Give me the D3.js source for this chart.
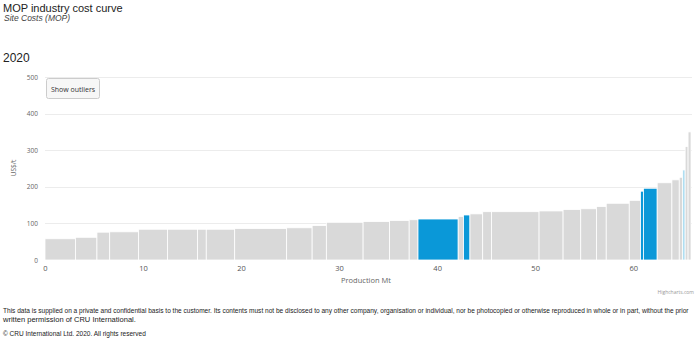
<!DOCTYPE html>
<html><head><meta charset="utf-8">
<script src="https://cdn.jsdelivr.net/npm/d3@7"></script>
<style>
html,body{margin:0;padding:0;background:#fff;}
svg{display:block;}
</style></head>
<body>
<svg id="c" width="698" height="339"></svg>
<script>
// Production capacity of each site (Mt), in cost order
const widths = [3.1, 2.2, 1.3, 2.95, 2.95, 3.05, 0.9, 2.9, 5.3, 2.6, 1.45, 3.75, 2.7, 2.0, 0.9, 4.1, 0.55, 0.65, 1.3, 0.9, 4.85, 2.45, 1.8, 1.6, 1.0, 2.35, 1.15, 0.3, 1.4, 1.5, 0.75, 0.35, 0.25, 0.3, 0.3];
// Site cost (US$/t)
const costs = [58, 62, 76, 77, 84, 84, 84, 84, 86, 88, 94, 103, 105, 108, 110, 112, 119, 123, 126, 132, 132, 134, 138, 140, 146, 155, 163, 188, 196, 211, 219, 226, 246, 310, 350];
// Highlight group: 0 = other, 1 = highlighted, 2 = light highlight
const groups = [0,0,0,0,0,0,0,0,0,0,0,0,0,0,0,1,0,1,0,0,0,0,0,0,0,0,0,1,1,0,0,0,2,0,0];
const xTicks = [0, 10, 20, 30, 40, 50, 60];
const yTicks = [0, 100, 200, 300, 400, 500];
const colors = ["#d9d9d9", "#0a98d8", "#a8dbf0"];

const svg = d3.select("#c");
const x = d3.scaleLinear().domain([0, 66]).range([45, 692]);
const y = d3.scaleLinear().domain([0, 500]).range([260, 77]);

// titles
svg.append("text").attr("x", 3).attr("y", 12).attr("font-family", "Liberation Sans, Arial, sans-serif")
  .attr("font-size", 11).attr("fill", "#222").text("MOP industry cost curve");
svg.append("text").attr("x", 4).attr("y", 20.5).attr("font-family", "Liberation Sans, Arial, sans-serif")
  .attr("font-size", 8.5).attr("font-style", "italic").attr("fill", "#444").text("Site Costs (MOP)");
svg.append("text").attr("x", 3).attr("y", 62).attr("font-family", "Liberation Sans, Arial, sans-serif")
  .attr("font-size", 12).attr("fill", "#222").text("2020");

// grid
svg.append("g").selectAll("line").data(yTicks.filter(d => d > 0)).join("line")
  .attr("x1", 45).attr("x2", 692).attr("y1", d => Math.round(y(d)) + 0.5).attr("y2", d => Math.round(y(d)) + 0.5)
  .attr("stroke", "#ececec").attr("stroke-width", 1);

// bars
let cum = 0;
const bars = widths.map((w, i) => { const b = {x0: cum, x1: cum + w, v: costs[i], g: groups[i]}; cum += w; return b; });
svg.append("g").selectAll("rect").data(bars).join("rect")
  .attr("x", d => x(d.x0)).attr("width", d => Math.max(0.5, x(d.x1) - x(d.x0)))
  .attr("y", d => y(d.v)).attr("height", d => y(0) - y(d.v))
  .attr("fill", d => colors[d.g]).attr("stroke", "#fff").attr("stroke-width", 0.8);

// axes
const xAxis = d3.axisBottom(x).tickValues(xTicks).tickSize(0).tickPadding(6);
const gx = svg.append("g").attr("transform", "translate(0,260)").call(xAxis);
gx.select(".domain").remove();
gx.selectAll("text").attr("font-family", "Open Sans, sans-serif").attr("font-size", 7.5).attr("fill", "#555");

const yAxis = d3.axisLeft(y).tickValues(yTicks).tickSize(0).tickPadding(7);
const gy = svg.append("g").attr("transform", "translate(45,0)").call(yAxis);
gy.select(".domain").remove();
gy.selectAll("text").attr("font-family", "Open Sans, sans-serif").attr("font-size", 6.5).attr("fill", "#666");

svg.append("text").attr("transform", "translate(16,168) rotate(-90)").attr("text-anchor", "middle")
  .attr("font-family", "Open Sans, sans-serif").attr("font-size", 6.5).attr("fill", "#666").text("US$/t");
svg.append("text").attr("x", 366).attr("y", 283).attr("text-anchor", "middle")
  .attr("font-family", "Open Sans, sans-serif").attr("font-size", 7.5).attr("fill", "#666").text("Production Mt");

// button
const btn = svg.append("g").attr("transform", "translate(46.5,78.5)");
btn.append("rect").attr("width", 53).attr("height", 20).attr("rx", 2)
  .attr("fill", "#f7f7f7").attr("stroke", "#cccccc").attr("stroke-width", 1);
btn.append("text").attr("x", 26.5).attr("y", 13).attr("text-anchor", "middle")
  .attr("font-family", "Open Sans, sans-serif").attr("font-size", 7).attr("fill", "#333").text("Show outliers");

// credits
svg.append("text").attr("x", 694).attr("y", 294).attr("text-anchor", "end")
  .attr("font-family", "Open Sans, sans-serif").attr("font-size", 5).attr("fill", "#999").text("Highcharts.com");

// footer: font size fitted so natural width matches the target width
const ff = "Liberation Sans, Arial, sans-serif";
function fitText(txt, yPos, targetW) {
  const t = svg.append("text").attr("x", 3).attr("y", yPos).attr("font-family", ff)
    .attr("font-size", 7).attr("fill", "#222").text(txt);
  const w = t.node().getComputedTextLength();
  t.attr("font-size", (7 * targetW / w).toFixed(3));
}
fitText("This data is supplied on a private and confidential basis to the customer. Its contents must not be disclosed to any other company, organisation or individual, nor be photocopied or otherwise reproduced in whole or in part, without the prior", 313, 686);
fitText("written permission of CRU International.", 322, 133);
fitText("© CRU International Ltd. 2020. All rights reserved", 336, 143);
</script>
</body></html>
